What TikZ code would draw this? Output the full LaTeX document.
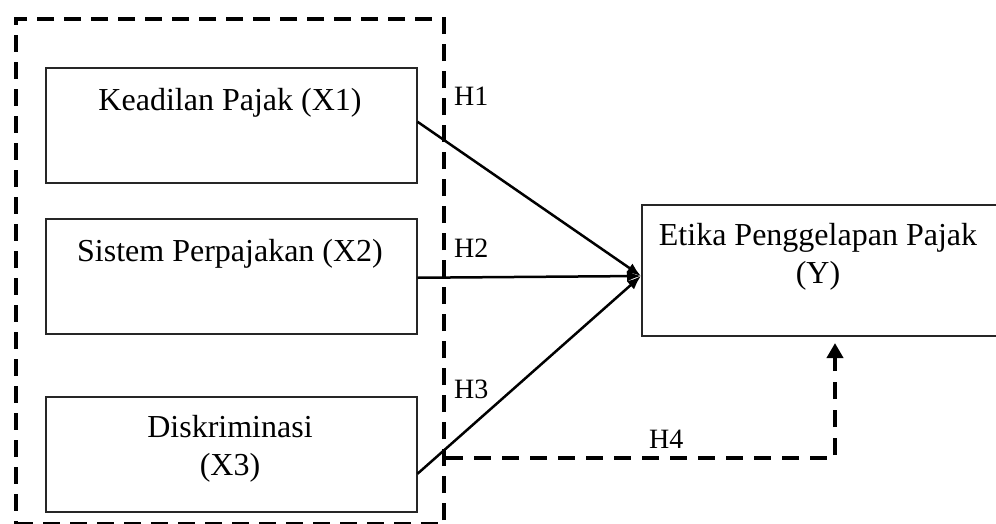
\documentclass[tikz,border=0pt]{standalone}
\usepackage{fontspec}
\setmainfont{Liberation Serif}
\usetikzlibrary{arrows.meta}
\begin{document}
\begin{tikzpicture}[x=1pt,y=-1pt,
 box/.style={draw=black!85,line width=1.5pt,minimum width=371pt,minimum height=115pt,inner sep=0pt,anchor=north west},
 ybox/.style={draw=black!85,line width=1.5pt,minimum width=420pt,minimum height=131pt,inner sep=0pt,anchor=north west},
 lbl/.style={font=\fontsize{32}{38}\selectfont,anchor=base,inner sep=0pt},
 hlbl/.style={font=\fontsize{28}{32}\selectfont,anchor=base west,inner sep=0pt},
 conn/.style={line width=2.5pt,-{Latex[length=14pt,width=11pt]}},
 dashframe/.style={draw,line width=4pt,dash pattern=on 17pt off 10pt,inner sep=0pt,anchor=north west,minimum width=428pt,minimum height=505pt},
 dashconn/.style={line width=4pt,dash pattern=on 17pt off 11pt,-{Triangle[length=15pt,width=16pt]}},
]
\useasboundingbox (0,0) rectangle (996,523);
\clip (0,0) rectangle (996,523);
% dashed frame
\node[dashframe] (frame) at (14,17) {};
% boxes
\node[box] (x1) at (45,67) {};
\node[box] (x2) at (45,218) {};
\node[box] (x3) at (45,396) {};
\node[ybox] (y) at (641,204) {};
% texts
\node[lbl] (t1) at (230,110) {Keadilan Pajak (X1)};
\node[lbl] (t2) at (230,261) {Sistem Perpajakan (X2)};
\node[lbl] (t3a) at (230,437) {Diskriminasi};
\node[lbl] (t3b) at (230,475) {(X3)};
\node[lbl] (ty1) at (818,245) {Etika Penggelapan Pajak};
\node[lbl] (ty2) at (818,283) {(Y)};
% hypothesis labels
\node[hlbl] (h1) at (454,105) {H1};
\node[hlbl] (h2) at (454,257) {H2};
\node[hlbl] (h3) at (454,398) {H3};
\node[hlbl] (h4) at (649,448) {H4};
% connectors
\coordinate (tgt) at (641,276);
\draw[conn] ([yshift=3.5pt]x1.east) -- (tgt);
\draw[conn] ([yshift=-1.5pt]x2.east) -- (tgt);
\draw[conn] ([yshift=-19.5pt]x3.east) -- (tgt);
\coordinate (h4y) at (0,458);
\coordinate (h4e) at (835,343);
\draw[dashconn] (frame.east |- h4y) -| (h4e);
\end{tikzpicture}
\end{document}
